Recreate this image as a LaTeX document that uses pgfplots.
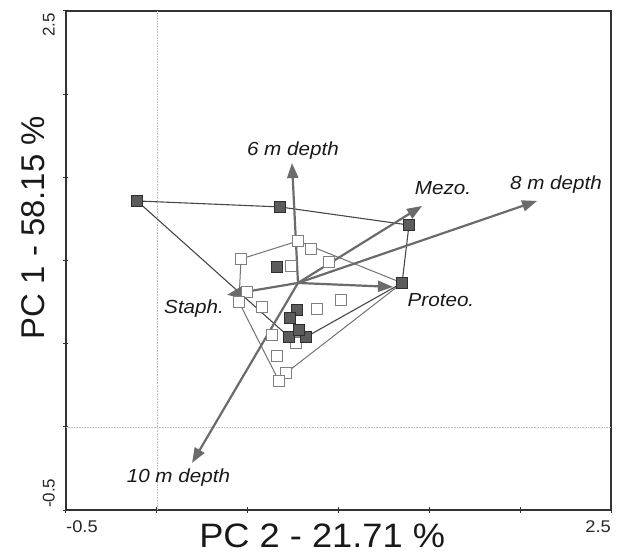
\documentclass[border=0pt]{standalone}
\usepackage{pgfplots}
\pgfplotsset{compat=1.18}
\usepackage{fontspec}
\setmainfont{Liberation Sans}
\usetikzlibrary{arrows.meta}
\definecolor{axc}{HTML}{333333}
\definecolor{arr}{HTML}{6B6B6B}
\definecolor{darkfill}{HTML}{5C5C5C}
\definecolor{darkedge}{HTML}{2E2E2E}
\definecolor{darkhull}{HTML}{474747}
\definecolor{lighthull}{HTML}{727272}
\definecolor{lightedge}{HTML}{808080}
\begin{document}
\begin{tikzpicture}
\useasboundingbox (-66bp,-44bp) rectangle (556bp,510bp);
\begin{axis}[
  at={(0,0)}, anchor=south west,
  scale only axis, width=545bp, height=499bp,
  xmin=-0.5, xmax=2.5, ymin=-0.5, ymax=2.5,
  xtick={-0.5,0,0.5,1,1.5,2,2.5}, ytick={-0.5,0,0.5,1,1.5,2,2.5},
  xticklabels={}, yticklabels={},
  xtick pos=left, ytick pos=left,
  tick align=center, major tick length=5bp,
  tick style={color=axc, line width=1bp},
  axis line style={color=axc, line width=1.3bp},
  clip=false,
]
% reference lines at zero
\addplot[black!25, line width=0.6bp, densely dotted] coordinates {(0,-0.5) (0,2.5)};
\addplot[black!25, line width=0.6bp, densely dotted] coordinates {(-0.5,0) (2.5,0)};
% light hull
\addplot[lighthull, line width=1bp] coordinates {
 (0.463,1.009) (0.777,1.117) (1.350,0.865) (0.711,0.324) (0.672,0.276) (0.452,0.750) (0.463,1.009)};
% dark hull
\addplot[darkhull, line width=1.1bp] coordinates {
 (-0.109,1.358) (0.678,1.322) (1.388,1.213) (1.350,0.865) (0.821,0.540) (0.728,0.540) (-0.109,1.358)};
% light samples
\addplot[only marks, mark=square*, mark size=5.2bp, mark options={draw=lightedge, fill=white, line width=1.2bp}] coordinates {
 (0.463,1.009) (0.777,1.117) (0.849,1.069) (0.948,0.991) (0.739,0.967)
 (0.496,0.811) (0.452,0.750) (0.579,0.720) (0.882,0.708) (1.014,0.763)
 (0.634,0.552) (0.766,0.504) (0.661,0.426) (0.711,0.324) (0.672,0.276) (1.350,0.865)};
% arrows
\addplot[arr, line width=2.2bp, -{Triangle[length=15bp,width=11bp]}] coordinates {(0.777,0.865) (0.744,1.586)};
\addplot[arr, line width=2.2bp, -{Triangle[length=15bp,width=11bp]}] coordinates {(0.777,0.865) (2.093,1.358)};
\addplot[arr, line width=2.2bp, -{Triangle[length=15bp,width=11bp]}] coordinates {(0.777,0.865) (1.460,1.328)};
\addplot[arr, line width=2.2bp, -{Triangle[length=15bp,width=11bp]}] coordinates {(0.777,0.865) (1.300,0.841)};
\addplot[arr, line width=2.2bp, -{Triangle[length=15bp,width=11bp]}] coordinates {(0.777,0.865) (0.386,0.793)};
\addplot[arr, line width=2.2bp, -{Triangle[length=15bp,width=11bp]}] coordinates {(0.777,0.865) (0.194,-0.217)};
% dark samples
\addplot[only marks, mark=square*, mark size=5.2bp, mark options={draw=darkedge, fill=darkfill, line width=1.1bp}] coordinates {
 (-0.109,1.358) (0.678,1.322) (1.388,1.213) (1.350,0.865) (0.821,0.540) (0.728,0.540)
 (0.661,0.961) (0.772,0.702) (0.733,0.654) (0.783,0.582)};
% arrow labels
\begin{scope}[every node/.style={font=\fontsize{19}{22}\selectfont\itshape, text=black!90, xscale=1.09, inner sep=0pt}]
\node at (axis cs:0.749,1.658) {6 m depth};
\node at (axis cs:1.575,1.436) {Mezo.};
\node at (axis cs:2.197,1.454) {8 m depth};
\node at (axis cs:1.564,0.763) {Proteo.};
\node at (axis cs:0.205,0.708) {Staph.};
\node at (axis cs:0.119,-0.308) {10 m depth};
\end{scope}
% tick labels
\begin{scope}[every node/.style={font=\fontsize{17}{20}\selectfont, text=black!85, inner sep=0pt}]
\node[anchor=north west, xscale=1.08] at ([yshift=-10bp]rel axis cs:0,0) {-0.5};
\node[anchor=north east, xscale=1.08] at ([yshift=-10bp]rel axis cs:1,0) {2.5};
\node[rotate=90, anchor=south east] at ([xshift=-11bp,yshift=-2bp]rel axis cs:0,1) {2.5};
\node[rotate=90, anchor=south west] at ([xshift=-11bp,yshift=2bp]rel axis cs:0,0) {-0.5};
\end{scope}
% axis titles
\node[font=\fontsize{34}{38}\selectfont, text=black!90, inner sep=0pt, anchor=north, xscale=1.07] at ([yshift=-14bp]rel axis cs:0.47,0) {PC 2 - 21.71 \%};
\node[font=\fontsize{33}{38}\selectfont, text=black!90, inner sep=0pt, anchor=south, rotate=90] at ([xshift=-21bp]rel axis cs:0,0.566) {PC 1 - 58.15 \%};
\end{axis}
\end{tikzpicture}
\end{document}
